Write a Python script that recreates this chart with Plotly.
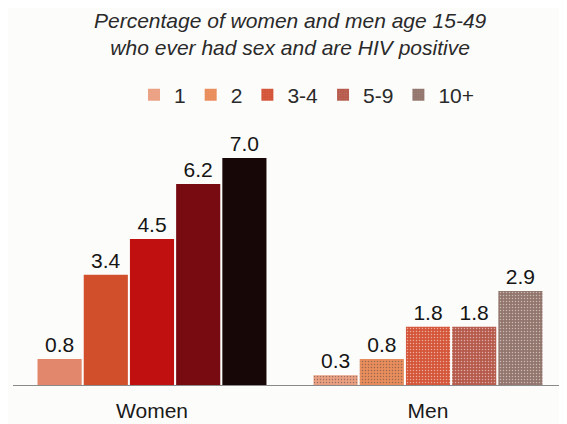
import plotly.graph_objects as go

groups = ["Women", "Men"]
categories = ["1", "2", "3-4", "5-9", "10+"]
women = [0.8, 3.4, 4.5, 6.2, 7.0]
men = [0.3, 0.8, 1.8, 1.8, 2.9]
labels_w = ["0.8", "3.4", "4.5", "6.2", "7.0"]
labels_m = ["0.3", "0.8", "1.8", "1.8", "2.9"]
title_lines = ["Percentage of women and men age 15-49", "who ever had sex and are HIV positive"]
women_colors = ["#e2876c", "#d24f2c", "#c0100f", "#780a12", "#170707"]
men_colors = ["#eba082", "#e98d5c", "#d45538", "#b65a4c", "#92756c"]
men_grain = ["#f2b69c", "#f0a57c", "#e27a62", "#cf8f84", "#b89c94"]

FONT = "Liberation Sans, Arial, sans-serif"
# The page body adds an 8px margin, so the figure is sized to fill the rest of the window
W, H = 559, 416
ML, MR, MT, MB = 5, 0, 112, 39
plot_w = W - ML - MR
plot_h = H - MT - MB
GROUP_PX = 276  # distance between the two group centres
c0 = 144        # centre of first group within the figure

fig = go.Figure()
for i, cat in enumerate(categories):
    # Men listed first so the legend swatch takes the men's (lighter) colour
    fig.add_trace(go.Bar(
        name=cat,
        x=[groups[1], groups[0]],
        y=[men[i], women[i]],
        text=[labels_m[i], labels_w[i]],
        textposition="outside",
        textfont=dict(family=FONT, size=21, color="#151515"),
        cliponaxis=False,
        marker=dict(
            color=[men_colors[i], women_colors[i]],
            line=dict(width=0),
            pattern=dict(shape=[".", ""], fgcolor=men_grain[i], size=3, solidity=0.2,
                         fillmode="overlay"),
        ),
    ))

fig.add_annotation(
    text="<i>" + "<br>".join(title_lines) + "</i>",
    xref="paper", yref="paper", x=(282 - ML) / plot_w, y=1 + (MT - 26.5) / plot_h,
    xanchor="center", yanchor="middle", showarrow=False, align="center",
    font=dict(family=FONT, size=21, color="#2a2a2a"),
)

fig.update_layout(
    width=W, height=H,
    paper_bgcolor="#fcfcfa", plot_bgcolor="#fcfcfa",
    barmode="group", bargap=0.163, bargroupgap=0.045,
    margin=dict(l=ML, r=MR, t=MT, b=MB, autoexpand=False),
    legend=dict(orientation="h", x=(126 - ML) / plot_w, xanchor="left",
                y=1 + (MT - 87) / plot_h, yanchor="middle",
                font=dict(family=FONT, size=21, color="#2a2a2a"),
                itemwidth=30, traceorder="normal", bgcolor="rgba(0,0,0,0)"),
    xaxis=dict(categoryorder="array", categoryarray=groups,
               range=[-(c0 - ML) / GROUP_PX, 1 + (W - MR - c0 - GROUP_PX) / GROUP_PX],
               showline=True, linecolor="#8a8a8a",
               linewidth=1, ticks="", showgrid=False, automargin=False, ticklabelstandoff=7,
               tickfont=dict(family=FONT, size=21, color="#1a1a1a")),
    yaxis=dict(range=[0, 7.0 * plot_h / 227], visible=False, showgrid=False, zeroline=False,
               automargin=False),
    showlegend=True,
)

fig.write_html("out.html")
